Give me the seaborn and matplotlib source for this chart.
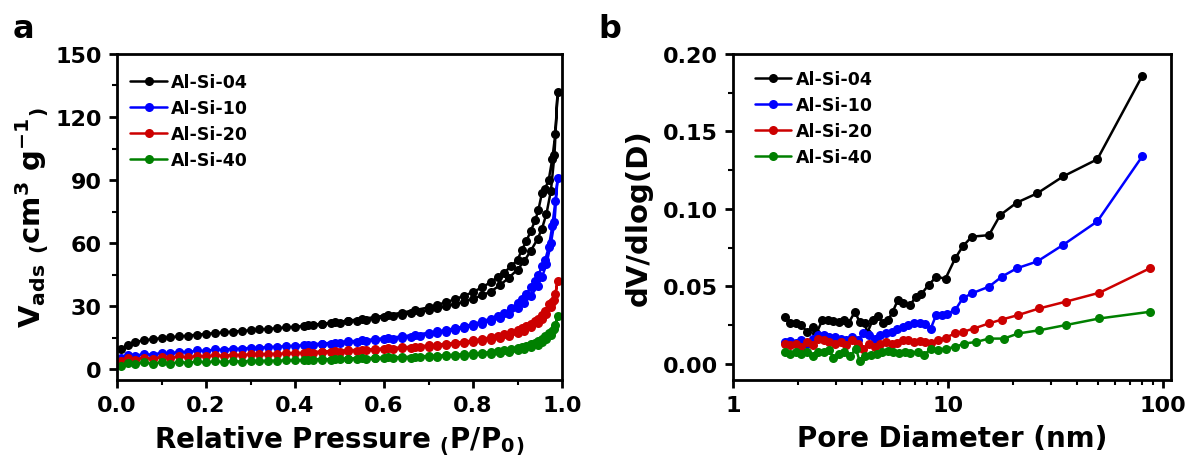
import numpy as np
import pandas as pd
import matplotlib
matplotlib.use('agg')
import matplotlib.pyplot as plt
from matplotlib.ticker import MultipleLocator, LogLocator, FuncFormatter, NullFormatter
import seaborn as sns

samples = ['Al-Si-04', 'Al-Si-10', 'Al-Si-20', 'Al-Si-40']
colors = ['#000000', '#0000ff', '#cc0000', '#008000']

# --- N2 isotherms (panel a): adsorption branch then desorption branch
p_ads = [0.01, 0.025, 0.04, 0.06, 0.08, 0.10, 0.12, 0.14, 0.16, 0.18, 0.20, 0.22, 0.24, 0.26,
         0.28, 0.30, 0.32, 0.34, 0.36, 0.38, 0.40, 0.42, 0.44, 0.46, 0.48, 0.50, 0.52, 0.54,
         0.56, 0.58, 0.60, 0.62, 0.64, 0.66, 0.68, 0.70, 0.72, 0.74, 0.76, 0.78, 0.80, 0.82,
         0.84, 0.86, 0.88, 0.90, 0.915, 0.93, 0.945, 0.955, 0.965, 0.975, 0.983, 0.99]
p_des = [0.985, 0.978, 0.97, 0.962, 0.955, 0.947, 0.94, 0.93, 0.92, 0.91, 0.90, 0.885, 0.87,
         0.855, 0.84, 0.82, 0.80, 0.78, 0.76, 0.74, 0.72, 0.70, 0.67, 0.64, 0.61, 0.58, 0.55,
         0.52, 0.49, 0.46, 0.43]

ads_04 = [9.5, 11.5, 13, 13.8, 14.4, 14.9, 15.3, 15.7, 16.1, 16.5, 16.9, 17.3, 17.6, 18,
          18.3, 18.6, 19, 19.3, 19.6, 20, 20.3, 20.7, 21.1, 21.5, 21.9, 22.3, 22.8, 23.2,
          23.7, 24.2, 24.8, 25.4, 26, 26.7, 27.4, 28.2, 29, 30, 31, 32.2, 33.6, 35.2,
          37, 40, 43.5, 47.5, 51.5, 56.5, 62, 67, 74, 85, 102, 132]
des_04 = [112, 100, 90, 86, 84, 76, 71, 66, 61, 57, 52, 49, 46, 43.8, 41.5, 39, 36.8, 35,
          33.4, 32, 30.7, 29.5, 28.2, 27, 25.9, 24.9, 24, 23.2, 22.4, 21.7, 21]

ads_10 = [5.5, 6.8, 6.3, 7.4, 6.9, 8, 7.6, 8.5, 8.2, 9, 8.8, 9.5, 9.3, 9.9,
          9.8, 10.3, 10.3, 10.7, 10.8, 11.1, 11.3, 11.5, 11.8, 12, 12.3, 12.6, 12.9, 13.2,
          13.5, 13.9, 14.3, 14.7, 15.1, 15.6, 16.1, 16.7, 17.3, 18, 18.8, 19.7, 20.7, 21.8,
          23.1, 24.6, 26.5, 29, 31.5, 35, 39.5, 44, 50, 60, 70, 91]
des_10 = [80, 68, 58, 52, 49, 45, 42, 39, 36, 33.5, 31.5, 29, 27, 25.5, 24.2, 22.8, 21.6,
          20.5, 19.6, 18.8, 18.1, 17.4, 16.5, 15.7, 15, 14.4, 13.8, 13.3, 12.8, 12.3, 11.8]

ads_20 = [4, 5.2, 4.6, 5.6, 5, 5.9, 5.4, 6.2, 5.8, 6.5, 6.2, 6.8, 6.5, 7,
          6.8, 7.2, 7.1, 7.4, 7.4, 7.6, 7.7, 7.9, 8, 8.2, 8.3, 8.5, 8.7, 8.9,
          9.1, 9.3, 9.5, 9.7, 10, 10.2, 10.5, 10.8, 11.1, 11.5, 11.9, 12.4, 12.9, 13.5,
          14.2, 15, 16, 17.2, 18.5, 20, 22, 24, 26.5, 29.5, 33, 42]
des_20 = [36, 32, 31, 28, 26, 24.2, 23, 21.8, 20.6, 19.6, 18.8, 17.7, 16.8, 16, 15.3, 14.5,
          13.8, 13.2, 12.7, 12.2, 11.8, 11.4, 10.9, 10.5, 10.1, 9.7, 9.4, 9.1, 8.8, 8.5, 8.2]

ads_40 = [1.8, 3.2, 2.4, 3.4, 2.6, 3.5, 2.8, 3.6, 3.1, 3.8, 3.3, 3.9, 3.5, 4,
          3.7, 4.1, 3.9, 4.2, 4.1, 4.3, 4.3, 4.4, 4.5, 4.6, 4.7, 4.8, 4.9, 5,
          5.1, 5.2, 5.3, 5.4, 5.5, 5.6, 5.8, 5.9, 6.1, 6.2, 6.4, 6.6, 6.9, 7.1,
          7.5, 7.9, 8.4, 9, 9.7, 10.6, 11.8, 13, 14.5, 16.5, 19, 25.5]
des_40 = [21, 18.5, 17.5, 15.8, 14.6, 13.5, 12.8, 12, 11.3, 10.7, 10.2, 9.6, 9.1, 8.7, 8.3,
          7.9, 7.6, 7.3, 7, 6.8, 6.6, 6.4, 6.1, 5.9, 5.7, 5.5, 5.3, 5.1, 4.9, 4.8, 4.6]

# --- BJH pore size distribution (panel b)
d_04 = [1.74, 1.85, 1.96, 2.08, 2.21, 2.35, 2.44, 2.60, 2.76, 2.93, 3.11, 3.28, 3.44, 3.69,
        3.88, 4.12, 4.2, 4.46, 4.73, 4.98, 5.25, 5.53, 5.84, 6.15, 6.67, 7.07, 7.52, 8.14,
        8.81, 9.74, 10.8, 11.7, 12.9, 15.5, 17.5, 20.9, 26.0, 34.4, 49.5, 80.2]
dv_04 = [0.030, 0.026, 0.026, 0.025, 0.0205, 0.024, 0.0195, 0.028, 0.028, 0.0277, 0.027,
         0.0285, 0.026, 0.0335, 0.027, 0.026, 0.0195, 0.028, 0.031, 0.026, 0.028, 0.0335,
         0.041, 0.039, 0.038, 0.043, 0.045, 0.051, 0.056, 0.055, 0.068, 0.0757, 0.082,
         0.083, 0.096, 0.104, 0.110, 0.121, 0.132, 0.186]

d_10 = [1.74, 1.85, 1.96, 2.08, 2.21, 2.35, 2.49, 2.65, 2.81, 2.99, 3.17, 3.37, 3.58, 3.80,
        4.04, 4.29, 4.56, 4.84, 5.14, 5.46, 5.80, 6.15, 6.53, 6.94, 7.37, 7.83, 8.31, 8.81,
        9.36, 9.94, 10.8, 11.7, 12.9, 15.5, 17.8, 20.9, 26.0, 34.4, 49.5, 80.2]
dv_10 = [0.014, 0.0147, 0.0134, 0.0151, 0.013, 0.0162, 0.0184, 0.0184, 0.0173, 0.0173,
         0.0162, 0.0151, 0.0173, 0.0151, 0.0195, 0.0184, 0.0162, 0.0184, 0.0195, 0.0205,
         0.0227, 0.0238, 0.0249, 0.026, 0.026, 0.0255, 0.0227, 0.0314, 0.0314, 0.0324,
         0.0346, 0.0422, 0.0454, 0.0497, 0.0562, 0.0616, 0.066, 0.0768, 0.0919, 0.134]

d_20 = [1.74, 1.85, 1.96, 2.08, 2.21, 2.35, 2.49, 2.65, 2.81, 2.99, 3.17, 3.37, 3.58, 3.80,
        4.04, 4.29, 4.56, 4.84, 5.14, 5.46, 5.80, 6.15, 6.53, 6.94, 7.37, 7.83, 8.31, 9.0,
        9.74, 10.8, 11.7, 13.2, 15.5, 17.8, 21.2, 26.6, 35.2, 50.6, 86.9]
dv_20 = [0.013, 0.0119, 0.013, 0.0108, 0.014, 0.0119, 0.0162, 0.0151, 0.014, 0.013, 0.014,
         0.0119, 0.0151, 0.013, 0.0097, 0.013, 0.0108, 0.013, 0.014, 0.013, 0.0134, 0.0151,
         0.0156, 0.014, 0.0147, 0.014, 0.0134, 0.0151, 0.0169, 0.0195, 0.0205, 0.0227,
         0.026, 0.0285, 0.0314, 0.0357, 0.040, 0.0458, 0.0616]

d_40 = [1.74, 1.85, 1.96, 2.08, 2.21, 2.35, 2.49, 2.65, 2.81, 2.93, 3.11, 3.30, 3.51, 3.73,
        3.88, 4.12, 4.38, 4.65, 4.94, 5.25, 5.57, 5.91, 6.28, 6.67, 7.22, 7.73, 8.31, 9.0,
        9.74, 10.8, 11.9, 13.5, 15.5, 18.2, 21.2, 26.6, 35.2, 50.6, 86.9]
dv_40 = [0.0076, 0.0065, 0.0076, 0.0065, 0.0076, 0.0048, 0.0076, 0.0076, 0.0086, 0.0039,
         0.0065, 0.0076, 0.0048, 0.0097, 0.0017, 0.0048, 0.0054, 0.0065, 0.0076, 0.0082,
         0.0076, 0.0069, 0.0076, 0.0069, 0.0076, 0.0054, 0.0097, 0.0091, 0.0097, 0.0108,
         0.013, 0.014, 0.0162, 0.0162, 0.0195, 0.0216, 0.0249, 0.0292, 0.0335]

iso_ads = [ads_04, ads_10, ads_20, ads_40]
iso_des = [des_04, des_10, des_20, des_40]
psd_d = [d_04, d_10, d_20, d_40]
psd_v = [dv_04, dv_10, dv_20, dv_40]

frames = []
for name, a, d in zip(samples, iso_ads, iso_des):
    frames.append(pd.DataFrame({'P': p_ads + p_des, 'V': a + d, 'sample': name}))
iso = pd.concat(frames, ignore_index=True)

frames = []
for name, d, v in zip(samples, psd_d, psd_v):
    frames.append(pd.DataFrame({'D': d, 'dV': v, 'sample': name}))
psd = pd.concat(frames, ignore_index=True)

sns.set_style('ticks')
plt.rcParams['font.family'] = ['DejaVu Sans']
plt.rcParams['font.weight'] = 'bold'
plt.rcParams['axes.labelweight'] = 'bold'
plt.rcParams['mathtext.fontset'] = 'dejavusans'
plt.rcParams['mathtext.default'] = 'bf'
plt.rcParams['axes.linewidth'] = 2
for key in ['text.color', 'axes.labelcolor', 'xtick.color', 'ytick.color', 'axes.edgecolor']:
    plt.rcParams[key] = 'black'

fig = plt.figure(figsize=(11.89, 4.64), dpi=100)
ax1 = fig.add_axes([0.0984, 0.179, 0.3743, 0.7026])
ax2 = fig.add_axes([0.6165, 0.179, 0.3684, 0.7026])

line_kw = dict(marker='o', markersize=6.5, markeredgewidth=0, linewidth=1.8,
               estimator=None, sort=False, legend=False)
sns.lineplot(data=iso, x='P', y='V', hue='sample', hue_order=samples, palette=colors,
             ax=ax1, **line_kw)
sns.lineplot(data=psd, x='D', y='dV', hue='sample', hue_order=samples, palette=colors,
             ax=ax2, **line_kw)

ax1.set_xlim(0, 1)
ax1.set_ylim(-5, 150)
ax1.xaxis.set_major_locator(MultipleLocator(0.2))
ax1.xaxis.set_minor_locator(MultipleLocator(0.1))
ax1.yaxis.set_major_locator(MultipleLocator(30))
ax1.yaxis.set_minor_locator(MultipleLocator(15))
ax1.xaxis.set_major_formatter(FuncFormatter(lambda v, p: f'{v:.1f}'))
ax1.set_xlabel(r'Relative Pressure ${}_{(}$P/P${}_{0}$${}_{)}$', fontsize=20, labelpad=6)
ax1.set_ylabel(r'V${}_{ads}$ ${}_{(}$cm$^{3}$ g$^{-1}$${}_{)}$', fontsize=21, labelpad=2)

ax2.set_xscale('log')
ax2.set_xlim(1, 109)
ax2.set_ylim(-0.0105, 0.2)
ax2.xaxis.set_major_locator(LogLocator(base=10))
ax2.xaxis.set_minor_locator(LogLocator(base=10, subs=np.arange(2, 10)))
ax2.xaxis.set_major_formatter(FuncFormatter(lambda v, p: f'{v:g}'))
ax2.xaxis.set_minor_formatter(NullFormatter())
ax2.yaxis.set_major_locator(MultipleLocator(0.05))
ax2.yaxis.set_minor_locator(MultipleLocator(0.025))
ax2.yaxis.set_major_formatter(FuncFormatter(lambda v, p: f'{v:.2f}'))
ax2.set_xlabel('Pore Diameter (nm)', fontsize=20, labelpad=6)
ax2.set_ylabel('dV/dlog(D)', fontsize=21, labelpad=7)

for ax, anchor in [(ax1, (0.03, 0.94)), (ax2, (0.05, 0.95))]:
    ax.tick_params(which='major', direction='out', length=6, width=2, labelsize=16, pad=5)
    ax.tick_params(which='minor', direction='out', length=3.5, width=1.5)
    for s in ax.spines.values():
        s.set_linewidth(2)
    ax.legend(ax.lines[:4], samples, loc='upper left', bbox_to_anchor=anchor,
              frameon=False, fontsize=12.5, handlelength=2.1, handletextpad=0.25,
              labelspacing=0.45, borderpad=0, borderaxespad=0)

fig.text(0.0193, 0.918, 'a', fontsize=23, fontweight='bold', ha='center', va='baseline')
fig.text(0.513, 0.918, 'b', fontsize=23, fontweight='bold', ha='center', va='baseline')

fig.savefig('out.png', dpi=100)
